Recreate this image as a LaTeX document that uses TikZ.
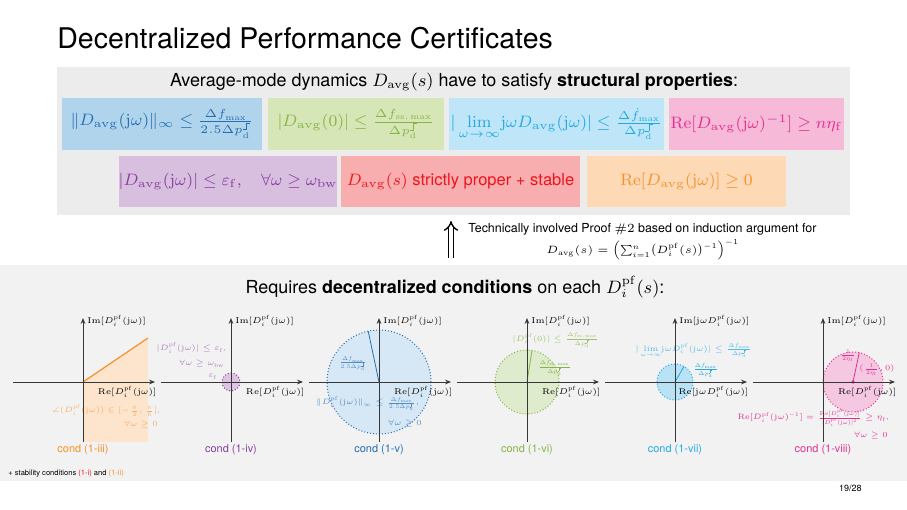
\RequirePackage{fix-cm}
\documentclass[tikz,border=0pt]{standalone}
\usepackage{amsmath,amssymb}
\usepackage[no-math]{fontspec}
\setmainfont{TeX Gyre Heros}
\usetikzlibrary{arrows.meta}

\DeclareMathSizes{3.9}{3.9}{2.8}{2.2}
\DeclareMathSizes{4.2}{4.2}{3}{2.4}
\DeclareMathSizes{5.3}{5.3}{3.8}{3}
\DeclareMathSizes{6.25}{6.25}{4.4}{3.4}

\definecolor{panelA}{RGB}{236,236,236}
\definecolor{panelB}{RGB}{242,242,242}
\definecolor{bluebg}{RGB}{176,212,236}
\definecolor{bluefg}{RGB}{38,110,178}
\definecolor{blueshade}{RGB}{214,232,246}
\definecolor{greenbg}{RGB}{214,230,182}
\definecolor{greenfg}{RGB}{135,180,70}
\definecolor{greenshade}{RGB}{222,236,205}
\definecolor{cyanbg}{RGB}{190,230,248}
\definecolor{cyanfg}{RGB}{35,170,225}
\definecolor{cyanshade}{RGB}{185,226,245}
\definecolor{pinkbg}{RGB}{246,186,216}
\definecolor{pinkfg}{RGB}{226,48,146}
\definecolor{pinkshade}{RGB}{245,200,226}
\definecolor{purplebg}{RGB}{216,190,223}
\definecolor{purplefg}{RGB}{135,65,155}
\definecolor{purpleshade}{RGB}{222,196,226}
\definecolor{redbg}{RGB}{248,174,174}
\definecolor{redfg}{RGB}{238,20,30}
\definecolor{orangebg}{RGB}{253,217,182}
\definecolor{orangefg}{RGB}{245,145,40}
\definecolor{orangeshade}{RGB}{252,228,205}
\definecolor{axisgray}{RGB}{55,55,55}

\newcommand{\Davg}{D_{\mathrm{avg}}}
\newcommand{\Dpf}{D_i^{\mathrm{pf}}}
\newcommand{\jw}{\mathrm{j}\omega}
\newcommand{\stepsym}{\mbox{\rule{0.2em}{0.04em}\rule{0.04em}{0.45em}\raisebox{0.41em}{\rule{0.2em}{0.04em}}}}
\newcommand{\dpd}{\Delta p^{\stepsym}_{\mathrm{d}}}

\tikzset{
  propbox/.style={rectangle, inner sep=0pt, font=\fontsize{8.3}{10}\selectfont},
  axis/.style={draw=axisgray, line width=0.5pt, -{Stealth[length=3pt,width=2.4pt]}},
  axlabel/.style={inner sep=0pt, font=\fontsize{4.2}{5}\selectfont},
  condlabel/.style={inner sep=0pt, font=\fontsize{5.5}{6}\selectfont},
  plotnote/.style={inner sep=0pt, font=\fontsize{3.9}{4.5}\selectfont},
  region/.style={densely dotted, line width=0.5pt},
}

\begin{document}
\begin{tikzpicture}[x=0.17641mm, y=-0.17641mm]
\useasboundingbox (0,0) rectangle (907,510);

% Title
\node (title) [anchor=west, inner sep=0pt, font=\fontsize{14.3}{16}\selectfont] at (57,38) {Decentralized Performance Certificates};

% Structural properties
\fill[panelA] (57,67) rectangle (850,215);
\node (avgline) [font=\fontsize{9}{11}\selectfont] at (454,82) {Average-mode dynamics $\Davg(s)$ have to satisfy \textbf{structural properties}:};

\node (box1) [propbox, fill=bluebg, text=bluefg, minimum width=100pt, minimum height=26pt] at (162,124) {$\|\Davg(\jw)\|_\infty \le \frac{\Delta f_{\max}}{2.5\dpd}$};
\node (box2) [propbox, fill=greenbg, text=greenfg, minimum width=88pt, minimum height=26pt] at (356,124) {$|\Davg(0)| \le \frac{\Delta f_{\mathrm{ss,\,max}}}{\dpd}$};
\node (box3) [propbox, fill=cyanbg, text=cyanfg, minimum width=107.5pt, minimum height=26pt] at (556.5,124) {$|\lim\limits_{\omega\to\infty}\!\jw\Davg(\jw)| \le \frac{\Delta \dot f_{\max}}{\dpd}$};
\node (box4) [propbox, fill=pinkbg, text=pinkfg, minimum width=87.5pt, minimum height=26pt] at (756.5,124) {$\mathrm{Re}[\Davg(\jw)^{-1}] \ge n\eta_{\mathrm f}$};

\node (box5) [propbox, fill=purplebg, text=purplefg, minimum width=107pt, minimum height=25.5pt] at (228,181.5) {$|\Davg(\jw)| \le \varepsilon_{\mathrm f},\quad \forall\omega\ge\omega_{\mathrm{bw}}$};
\node (box6) [propbox, fill=redbg, text=redfg, minimum width=119.5pt, minimum height=25.5pt] at (460.5,181.5) {$\Davg(s)$ strictly proper + stable};
\node (box7) [propbox, fill=orangebg, text=orangefg, minimum width=99.5pt, minimum height=25.5pt] at (686.5,181.5) {$\mathrm{Re}[\Davg(\jw)] \ge 0$};

% Proof link
\coordinate (arrlow) at (451,258);
\coordinate (arrhigh) at (451,221);
\draw[double, double distance=1.8pt, line width=0.7pt, -{Implies}] (arrlow) -- (arrhigh);
\node (proof) [anchor=west, inner sep=0pt, font=\fontsize{6.25}{7}\selectfont] at (468,229) {Technically involved Proof $\#2$ based on induction argument for};
\node (proofeq) [anchor=west, inner sep=0pt, font=\fontsize{5.3}{6}\selectfont] at (546,250) {$\Davg(s)=\Bigl(\sum_{i=1}^n \bigl(\Dpf(s)\bigr)^{-1}\Bigr)^{-1}$};

% Decentralized conditions
\fill[panelB] (0,265) rectangle (907,481);
\node (reqline) [font=\fontsize{9}{11}\selectfont] at (455,287) {Requires \textbf{decentralized conditions} on each $\Dpf(s)$:};

% cond (1-iii)
\begin{scope}[shift={(83,382)}]
  \coordinate (o1) at (0,0);
  \coordinate (t1) at (65,-44);
  \fill[orangeshade] (o1) -- (t1) -- (65,60) -- (0,60) -- cycle;
  \draw[orangefg, line width=0.6pt] (o1) -- (t1);
  \node (n1a) [plotnote, anchor=east, text=orangefg!75] at (77,29) {$\angle(\Dpf(\jw))\in[-\frac{\pi}{2},\frac{\pi}{6}]$,};
  \node (n1b) [plotnote, anchor=east, text=orangefg!75] at (75,43) {$\forall\omega\ge0$};
  \draw[axis] (-70,0) -- (72,0);
  \draw[axis] (0,60) -- (0,-64);
  \node (im1) [axlabel, anchor=west] at (4,-61) {$\mathrm{Im}[\Dpf(\jw)]$};
  \node (re1) [axlabel, anchor=east] at (74,10) {$\mathrm{Re}[\Dpf(\jw)]$};
  \node (c1) [condlabel, text=orangefg] at (0,68) {cond (1-iii)};
\end{scope}

% cond (1-iv)
\begin{scope}[shift={(231,382)}]
  \coordinate (o2) at (0,0);
  \draw[region, purplefg, fill=purpleshade] (o2) circle[radius=9];
  \node (n2a) [plotnote, anchor=east, text=purplefg!70] at (-5,-34) {$|\Dpf(\jw)|\le\varepsilon_{\mathrm f}$,};
  \node (n2b) [plotnote, anchor=east, text=purplefg!70] at (-6,-18) {$\forall\omega\ge\omega_{\mathrm{bw}}$};
  \node (e2) [plotnote, anchor=east, text=purplefg!70] at (-13,-5) {$\varepsilon_{\mathrm f}$};
  \draw[axis] (-70,0) -- (72,0);
  \draw[axis] (0,60) -- (0,-64);
  \node (im2) [axlabel, anchor=west] at (4,-61) {$\mathrm{Im}[\Dpf(\jw)]$};
  \node (re2) [axlabel, anchor=east] at (74,10) {$\mathrm{Re}[\Dpf(\jw)]$};
  \node (c2) [condlabel, text=purplefg] at (0,68) {cond (1-iv)};
\end{scope}

% cond (1-v)
\begin{scope}[shift={(379,382)}]
  \coordinate (o3) at (0,0);
  \coordinate (t3) at (-102:52);
  \draw[region, bluefg, fill=blueshade] (o3) circle[radius=52];
  \draw[bluefg, line width=0.4pt] (o3) -- (t3);
  \node (r3) [plotnote, text=bluefg!80] at (-26,-18) {$\frac{\Delta f_{\max}}{2.5\dpd}$};
  \node (n3a) [plotnote, anchor=east, text=bluefg!80] at (40,22) {$\|\Dpf(\jw)\|_\infty\le\frac{\Delta f_{\max}}{2.5\dpd}$,};
  \node (n3b) [plotnote, anchor=east, text=bluefg!80] at (43,42) {$\forall\omega\ge0$};
  \draw[axis] (-70,0) -- (72,0);
  \draw[axis] (0,60) -- (0,-64);
  \node (im3) [axlabel, anchor=west] at (4,-61) {$\mathrm{Im}[\Dpf(\jw)]$};
  \node (re3) [axlabel, anchor=east] at (74,10) {$\mathrm{Re}[\Dpf(\jw)]$};
  \node (c3) [condlabel, text=bluefg] at (0,68) {cond (1-v)};
\end{scope}

% cond (1-vi)
\begin{scope}[shift={(527,382)}]
  \coordinate (o4) at (0,0);
  \coordinate (t4) at (-81:32);
  \draw[region, greenfg, fill=greenshade] (o4) circle[radius=32];
  \draw[greenfg, line width=0.4pt] (o4) -- (t4);
  \node (r4) [plotnote, anchor=west, text=greenfg] at (10,-14) {$\frac{\Delta f_{\mathrm{ss,\,max}}}{\dpd}$};
  \node (n4) [plotnote, anchor=west, text=greenfg!80] at (-15,-42) {$|\Dpf(0)|\le\frac{\Delta f_{\mathrm{ss,\,max}}}{\dpd}$};
  \draw[axis] (-70,0) -- (72,0);
  \draw[axis] (0,60) -- (0,-64);
  \node (im4) [axlabel, anchor=west] at (4,-61) {$\mathrm{Im}[\Dpf(\jw)]$};
  \node (re4) [axlabel, anchor=east] at (74,10) {$\mathrm{Re}[\Dpf(\jw)]$};
  \node (c4) [condlabel, text=greenfg] at (0,68) {cond (1-vi)};
\end{scope}

% cond (1-vii)
\begin{scope}[shift={(675,382)}]
  \coordinate (o5) at (0,0);
  \coordinate (t5) at (-60:18);
  \draw[region, cyanfg, fill=cyanshade] (o5) circle[radius=18];
  \draw[cyanfg, line width=0.4pt] (o5) -- (t5);
  \node (r5) [plotnote, anchor=west, text=cyanfg] at (17,-12) {$\frac{\Delta\dot f_{\max}}{\dpd}$};
  \node (n5) [plotnote, anchor=west, text=cyanfg!80] at (-40,-32) {$|\lim\limits_{\omega\to\infty}\!\jw\Dpf(\jw)|\le\frac{\Delta\dot f_{\max}}{\dpd}$};
  \draw[axis] (-70,0) -- (72,0);
  \draw[axis] (0,60) -- (0,-64);
  \node (im5) [axlabel, anchor=west] at (4,-61) {$\mathrm{Im}[\jw\Dpf(\jw)]$};
  \node (re5) [axlabel, anchor=east] at (74,10) {$\mathrm{Re}[\jw\Dpf(\jw)]$};
  \node (c5) [condlabel, text=cyanfg] at (0,68) {cond (1-vii)};
\end{scope}

% cond (1-viii)
\begin{scope}[shift={(823,382)}]
  \coordinate (o6) at (0,0);
  \coordinate (m6) at (30,0);
  \coordinate (t6) at (36.2,-29.3);
  \draw[region, pinkfg, fill=pinkshade] (m6) circle[radius=30];
  \draw[pinkfg, line width=0.4pt] (m6) -- (t6);
  \fill[pinkfg] (m6) circle[radius=1.8];
  \node (r6) [plotnote, text=pinkfg] at (25,-26) {$\frac{1}{2\eta_{\mathrm f}}$};
  \node (p6) [plotnote, text=pinkfg] at (54,-12) {$(\frac{1}{2\eta_{\mathrm f}},0)$};
  \node (n6a) [plotnote, anchor=east, text=pinkfg] at (66,36) {$\mathrm{Re}[\Dpf(\jw)^{-1}]=\frac{\mathrm{Re}[\Dpf(\jw)]}{|\Dpf(\jw)|^2}\ge\eta_{\mathrm f}$,};
  \node (n6b) [plotnote, anchor=east, text=pinkfg] at (65,54) {$\forall\omega\ge0$};
  \draw[axis] (-70,0) -- (72,0);
  \draw[axis] (0,60) -- (0,-64);
  \node (im6) [axlabel, anchor=west] at (4,-61) {$\mathrm{Im}[\Dpf(\jw)]$};
  \node (re6) [axlabel, anchor=east] at (74,10) {$\mathrm{Re}[\Dpf(\jw)]$};
  \node (c6) [condlabel, text=pinkfg] at (0,68) {cond (1-viii)};
\end{scope}

% Footer
\node (stab) [anchor=west, inner sep=0pt, font=\fontsize{3.8}{4.5}\selectfont] at (8,474) {+ stability conditions \textcolor{redfg}{(1-i)} and \textcolor{orangefg}{(1-ii)}};
\node (page) [anchor=east, inner sep=0pt, font=\fontsize{4.5}{5}\selectfont] at (862,488) {19/28};
\end{tikzpicture}
\end{document}
